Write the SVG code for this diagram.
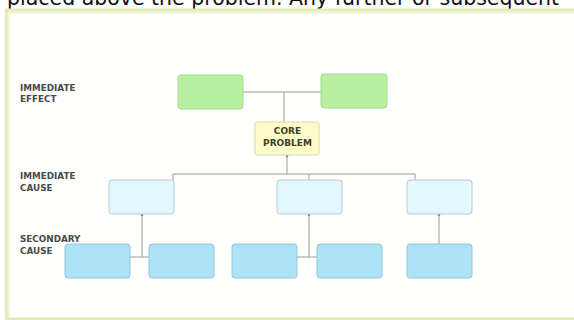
<svg xmlns="http://www.w3.org/2000/svg" width="574" height="320" viewBox="0 0 574 320">
  <style>
    .lbl { font-family: "DejaVu Sans", "Liberation Sans", sans-serif; font-weight: bold; font-size: 8.8px; fill: #4a4a4a; }
    .core-t { font-family: "DejaVu Sans", "Liberation Sans", sans-serif; font-weight: bold; font-size: 9px; fill: #3f3f2a; text-anchor: middle; }
    .effect { fill: #b8f0a2; stroke: #a3d88e; stroke-width: 1; }
    .core { fill: #fdfbc9; stroke: #dedba2; stroke-width: 1; }
    .icause { fill: #e3f8fd; stroke: #b4cad2; stroke-width: 1; }
    .scause { fill: #ade3f7; stroke: #95c4d7; stroke-width: 1; }
    .conn { stroke: #9a9a9a; stroke-width: 1; fill: none; }
    .top { font-family: "DejaVu Sans", "Liberation Sans", sans-serif; font-size: 20.5px; fill: #111; }
  </style>
  <rect x="0" y="0" width="574" height="320" fill="#ffffff"/>
  <text class="top" x="7" y="5">placed above the problem. Any further or subsequent</text>
  <!-- frame -->
  <rect x="6.5" y="10" width="600" height="309" fill="#fffffd" stroke="#e1ebb5" stroke-width="3"/>
  <path d="M8.5 12.5 H574 M8.5 12.5 V317" stroke="#eef3d6" stroke-width="2" fill="none"/>

  <!-- row labels -->
  <g id="label-immediate-effect">
    <text class="lbl" x="20" y="91">IMMEDIATE</text>
    <text class="lbl" x="20" y="102">EFFECT</text>
  </g>
  <g id="label-immediate-cause">
    <text class="lbl" x="20" y="179">IMMEDIATE</text>
    <text class="lbl" x="20" y="190.5">CAUSE</text>
  </g>
  <g id="label-secondary-cause">
    <text class="lbl" x="20" y="242">SECONDARY</text>
    <text class="lbl" x="20" y="254">CAUSE</text>
  </g>

  <!-- connectors -->
  <g id="connectors">
    <path class="conn" d="M243 92 H321"/>
    <path class="conn" d="M284 92 V122"/>
    <path class="conn" d="M287 155 V174"/>
    <path class="conn" d="M173 180 V174 H415 V180"/>
    <path class="conn" d="M309 174 V180"/>
    <path class="conn" d="M142 214 V257"/>
    <path class="conn" d="M130 257 H149"/>
    <path class="conn" d="M309 214 V257"/>
    <path class="conn" d="M297 257 H317"/>
    <path class="conn" d="M439 214 V244"/>
    <circle cx="142" cy="215" r="1.3" fill="#8a8a8a"/>
    <circle cx="309" cy="215" r="1.3" fill="#8a8a8a"/>
    <circle cx="439" cy="215" r="1.3" fill="#8a8a8a"/>
    <circle cx="287" cy="156" r="1.3" fill="#8a8a8a"/>
  </g>

  <!-- nodes -->
  <g id="effect-1"><rect class="effect" x="178" y="75" width="65" height="34" rx="3"/></g>
  <g id="effect-2"><rect class="effect" x="321" y="74" width="66" height="34" rx="3"/></g>
  <g id="core-problem">
    <rect class="core" x="255" y="122" width="64" height="33" rx="2"/>
    <text class="core-t" x="287.5" y="134">CORE</text>
    <text class="core-t" x="287.5" y="146">PROBLEM</text>
  </g>
  <g id="cause-1"><rect class="icause" x="109" y="180" width="65" height="34" rx="3"/></g>
  <g id="cause-2"><rect class="icause" x="277" y="180" width="65" height="34" rx="3"/></g>
  <g id="cause-3"><rect class="icause" x="407" y="180" width="65" height="34" rx="3"/></g>
  <g id="secondary-1"><rect class="scause" x="65" y="244" width="65" height="34" rx="3"/></g>
  <g id="secondary-2"><rect class="scause" x="149" y="244" width="65" height="34" rx="3"/></g>
  <g id="secondary-3"><rect class="scause" x="232" y="244" width="65" height="34" rx="3"/></g>
  <g id="secondary-4"><rect class="scause" x="317" y="244" width="65" height="34" rx="3"/></g>
  <g id="secondary-5"><rect class="scause" x="407" y="244" width="65" height="34" rx="3"/></g>
</svg>
